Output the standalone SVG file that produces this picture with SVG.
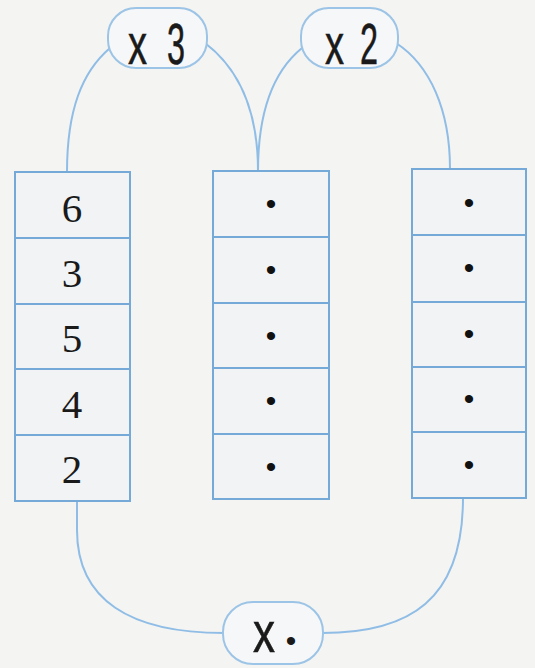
<svg xmlns="http://www.w3.org/2000/svg" width="535" height="668" viewBox="0 0 535 668">
<style>
.bg{fill:#f4f4f2}
.cell{fill:#f1f3f5;stroke:#74a9d8;stroke-width:2}
.conn{fill:none;stroke:#8fbde6;stroke-width:2}
.bub{fill:#f6f7f8;stroke:#9cc4e6;stroke-width:2}
.num{font-family:"Liberation Serif",serif;font-size:41px;fill:#1a1a1a;text-anchor:middle}
.dot{font-family:"Liberation Sans",sans-serif;font-size:30px;fill:#111;text-anchor:middle}
.op{font-family:"Liberation Sans",sans-serif;font-size:57px;fill:#1a1a1a;stroke:#1a1a1a;stroke-width:0.6}
</style>
<rect class="bg" x="0" y="0" width="535" height="668"/>
<g id="connectors">
<path class="conn" d="M67,172 C67,110 82,72 110,48"/>
<path class="conn" d="M205,43 C238,68 258,110 258,171"/>
<path class="conn" d="M302,48 C275,70 258,110 258,171"/>
<path class="conn" d="M396,43 C430,65 450,110 450,169"/>
<path class="conn" d="M77,501 L77,530 C77,600 130,633 224,633"/>
<path class="conn" d="M322,633 C410,633 463,600 463,498"/>
</g>
<g id="col-left">
<rect class="cell" x="15" y="172" width="115" height="66"/>
<rect class="cell" x="15" y="238" width="115" height="66"/>
<rect class="cell" x="15" y="304" width="115" height="65"/>
<rect class="cell" x="15" y="369" width="115" height="66"/>
<rect class="cell" x="15" y="435" width="115" height="66"/>
<text class="num" x="72" y="222">6</text>
<text class="num" x="72" y="287">3</text>
<text class="num" x="72" y="352">5</text>
<text class="num" x="72" y="418">4</text>
<text class="num" x="72" y="483">2</text>
</g>
<g id="col-middle">
<rect class="cell" x="213" y="171" width="116" height="66"/>
<rect class="cell" x="213" y="237" width="116" height="66"/>
<rect class="cell" x="213" y="303" width="116" height="65"/>
<rect class="cell" x="213" y="368" width="116" height="66"/>
<rect class="cell" x="213" y="434" width="116" height="65"/>
<text class="dot" x="271" y="214">•</text>
<text class="dot" x="271" y="280">•</text>
<text class="dot" x="271" y="346">•</text>
<text class="dot" x="271" y="411">•</text>
<text class="dot" x="271" y="477">•</text>
</g>
<g id="col-right">
<rect class="cell" x="412" y="169" width="114" height="66"/>
<rect class="cell" x="412" y="235" width="114" height="67"/>
<rect class="cell" x="412" y="302" width="114" height="65"/>
<rect class="cell" x="412" y="367" width="114" height="65"/>
<rect class="cell" x="412" y="432" width="114" height="66"/>
<text class="dot" x="469" y="213">•</text>
<text class="dot" x="469" y="278">•</text>
<text class="dot" x="469" y="344">•</text>
<text class="dot" x="469" y="409">•</text>
<text class="dot" x="469" y="475">•</text>
</g>
<g id="op-x3">
<rect class="bub" x="108" y="8" width="99" height="60" rx="28"/>
<text class="op" y="64"><tspan x="128" textLength="19" lengthAdjust="spacingAndGlyphs">x</tspan> <tspan x="167" textLength="18" lengthAdjust="spacingAndGlyphs">3</tspan></text>
</g>
<g id="op-x2">
<rect class="bub" x="301" y="8" width="97" height="60" rx="28"/>
<text class="op" y="64"><tspan x="325" textLength="19" lengthAdjust="spacingAndGlyphs">x</tspan> <tspan x="360" textLength="18" lengthAdjust="spacingAndGlyphs">2</tspan></text>
</g>
<g id="op-x">
<rect class="bub" x="223" y="602" width="100" height="62" rx="30"/>
<text class="op" y="652"><tspan x="253" textLength="22" lengthAdjust="spacingAndGlyphs">x</tspan> <tspan x="291" y="651" style="font-size:30px;text-anchor:middle;stroke:none">•</tspan></text>
</g>
</svg>
